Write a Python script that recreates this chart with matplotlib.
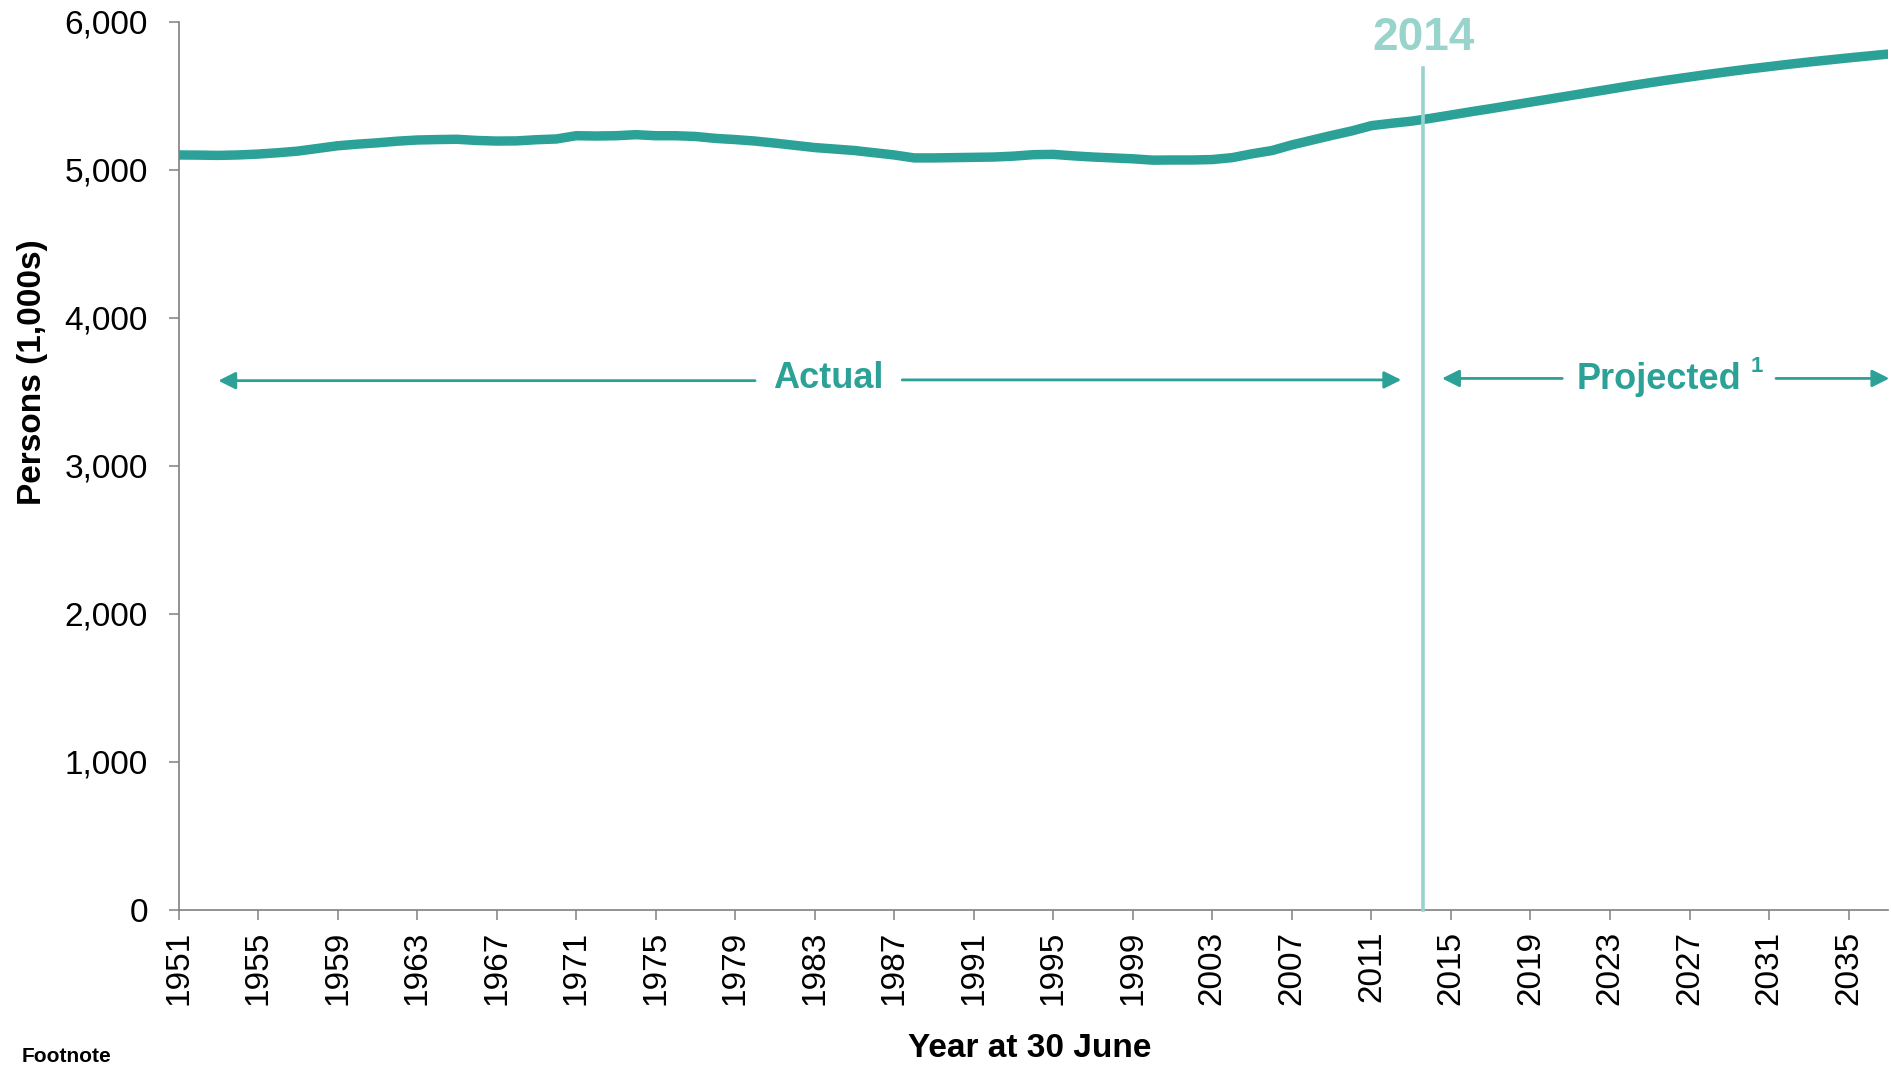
import numpy as np
import matplotlib
matplotlib.use('Agg')
import matplotlib.pyplot as plt

plt.rcParams['font.family'] = ['Liberation Sans', 'DejaVu Sans']

# population of Scotland, thousands, at 30 June
years = list(range(1951, 2038))
persons = [
    5100, 5099, 5097, 5100, 5106, 5115, 5126, 5144, 5162, 5173,   # 1951-1960
    5182, 5193, 5201, 5204, 5206, 5198, 5194, 5195, 5203, 5208,   # 1961-1970
    5230, 5228, 5230, 5237, 5230, 5230, 5225, 5212, 5204, 5194,   # 1971-1980
    5180, 5165, 5150, 5140, 5130, 5115, 5100, 5080, 5080, 5082,   # 1981-1990
    5084, 5086, 5092, 5102, 5104, 5094, 5086, 5080, 5074, 5065,   # 1991-2000
    5066, 5066, 5069, 5082, 5108, 5130, 5168, 5200, 5232, 5262,   # 2001-2010
    5298, 5314, 5328, 5348, 5370, 5392, 5413, 5435, 5457, 5479,   # 2011-2020
    5501, 5523, 5545, 5567, 5588, 5608, 5627, 5646, 5664, 5681,   # 2021-2030
    5697, 5713, 5728, 5742, 5756, 5769, 5782,                     # 2031-2037
]
tick_years = list(range(1951, 2036, 4))
base_year = 2013.6

teal = '#2ca197'
light = '#99d4cc'
grey = '#808080'

fig = plt.figure(figsize=(18.91, 10.67), dpi=100)
ax = fig.add_axes([0.0944, 0.1474, 0.9042, 0.8322])

ax.plot(years, persons, color=teal, lw=6.8, solid_capstyle='butt', zorder=3)

ax.set_xlim(1951, 2037)
ax.set_ylim(0, 6000)

ax.set_yticks(np.arange(0, 6001, 1000))
ax.set_yticklabels(['{:,}'.format(v) for v in range(0, 6001, 1000)])
ax.set_xticks(tick_years)
ax.set_xticklabels([str(y) for y in tick_years], rotation=90)

for s in ['top', 'right']:
    ax.spines[s].set_visible(False)
for s in ['left', 'bottom']:
    ax.spines[s].set_color(grey)
    ax.spines[s].set_linewidth(1.2)

ax.tick_params(axis='y', length=7, width=1.1, color=grey, labelsize=24, pad=15)
ax.tick_params(axis='x', length=7, width=1.1, color=grey, labelsize=24, pad=8)

# base year marker
ax.plot([base_year, base_year], [0, 5690], color=light, lw=2.6, zorder=4,
        clip_on=False)
ax.text(base_year, 5890, '2014', color=light, fontsize=33, fontweight='bold',
        ha='center', va='center', clip_on=False)

# actual / projected arrows
arrow = dict(arrowstyle='-|>', color=teal, lw=2, mutation_scale=26,
             shrinkA=0, shrinkB=0)
ax.annotate('', xy=(1953.0, 3575), xytext=(1980.0, 3575), arrowprops=arrow)
ax.annotate('', xy=(2012.5, 3580), xytext=(1987.4, 3580), arrowprops=arrow)
ax.annotate('', xy=(2014.55, 3590), xytext=(2020.6, 3590), arrowprops=arrow)
ax.annotate('', xy=(2037.05, 3590), xytext=(2031.35, 3590), arrowprops=arrow,
            annotation_clip=False)

ax.text(1983.66, 3590, 'Actual', color=teal, fontsize=26, fontweight='bold',
        ha='center', va='center')
ax.text(2025.47, 3585, 'Projected', color=teal, fontsize=26, fontweight='bold',
        ha='center', va='center')
ax.text(2030.4, 3670, '1', color=teal, fontsize=16, fontweight='bold',
        ha='center', va='center')

fig.text(0.0172, 0.6514, 'Persons (1,000s)', rotation=90, fontsize=24,
         fontweight='bold', ha='center', va='center')
fig.text(0.5447, 0.0169, 'Year at 30 June', fontsize=24, fontweight='bold',
         ha='center', va='center')
fig.text(0.0116, 0.0098, 'Footnote', fontsize=15, fontweight='bold',
         ha='left', va='center')

fig.savefig('out.png', dpi=100)
